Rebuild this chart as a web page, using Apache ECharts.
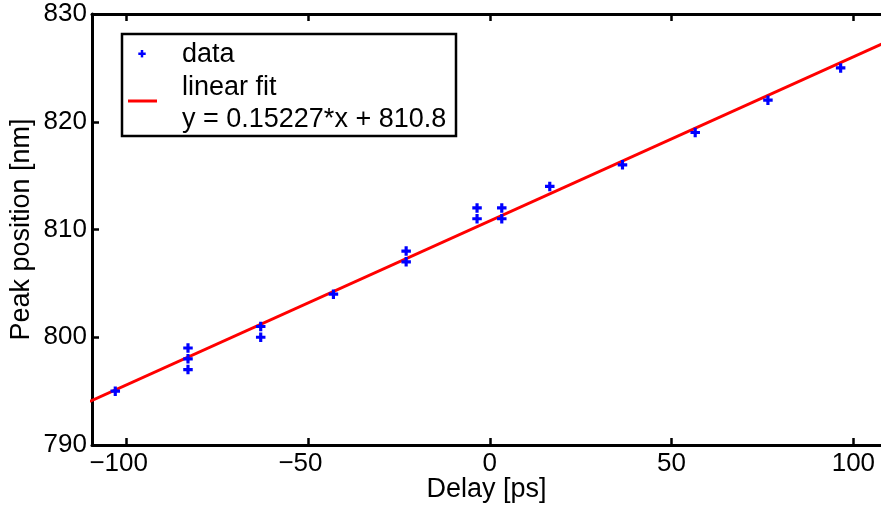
<!DOCTYPE html>
<html>
<head>
<meta charset="utf-8">
<script src="https://cdn.jsdelivr.net/npm/echarts@6/dist/echarts.min.js"></script>
<style>html,body{margin:0;padding:0;background:#fff}#c{width:881px;height:509px}</style>
</head>
<body>
<div id="c"></div>
<script>
// Data
const delay = [-103, -83, -83, -83, -63, -63, -43, -23, -23, -3.5, -3.5, 3.3, 3.3, 16.5, 36.5, 56.5, 76.5, 96.5];
const peak  = [795, 799, 798, 797, 801, 800, 804, 808, 807, 812, 811, 812, 811, 814, 816, 819, 822, 825];
const fitX = [-110, 110];
const fitY = [794.05, 827.55];
const xTicks = [-100, -50, 0, 50, 100];
const yTicks = [790, 800, 810, 820, 830];
const legendLabels = ['data', 'linear fit', 'y = 0.15227*x + 810.8'];

const FONT = 'Liberation Sans, Arial, sans-serif';
const chart = echarts.init(document.getElementById('c'), null, {renderer: 'canvas'});
const plus = 'path://M3,0h3v3h3v3h-3v3h-3v-3h-3v-3h3z';
const fmt = v => (v < 0 ? '{neg|\u2212' + Math.abs(v) + '}' : String(v));

const axisLine = {show: true, onZero: false, lineStyle: {color: '#000', width: 3}};
const axisTick = (vals) => ({show: true, inside: true, length: 7, customValues: vals, lineStyle: {color: '#000', width: 2.5}});

const option = {
  backgroundColor: '#fff',
  animation: false,
  grid: {left: 91, top: 14, right: 0, height: 431, containLabel: false},
  xAxis: [{
    type: 'value', min: -109.4, max: 107.6, position: 'bottom',
    name: 'Delay [ps]', nameLocation: 'middle', nameGap: 31.5, nameMoveOverlap: false,
    nameTextStyle: {fontFamily: FONT, fontSize: 27, color: '#000', verticalAlign: 'top', lineHeight: 27},
    axisLine: axisLine,
    axisTick: axisTick(xTicks),
    axisLabel: {show: true, customValues: xTicks, formatter: fmt, margin: 6, fontFamily: FONT, fontSize: 26, color: '#000',
      rich: {neg: {fontFamily: FONT, fontSize: 26, color: '#000', padding: [0, 15, 0, 0]}}},
    splitLine: {show: false}
  }, {
    type: 'value', min: -109.4, max: 107.6, position: 'top',
    axisLine: axisLine,
    axisTick: axisTick(xTicks),
    axisLabel: {show: false},
    splitLine: {show: false}
  }],
  yAxis: [{
    type: 'value', min: 790, max: 830, interval: 10, position: 'left',
    name: 'Peak position [nm]', nameLocation: 'middle', nameGap: 57, nameMoveOverlap: false,
    nameTextStyle: {fontFamily: FONT, fontSize: 27, color: '#000', lineHeight: 27},
    axisLine: axisLine,
    axisTick: axisTick(yTicks),
    axisLabel: {show: true, customValues: yTicks, margin: 5, fontFamily: FONT, fontSize: 26, color: '#000'},
    splitLine: {show: false}
  }],
  series: [{
    name: 'linear fit', type: 'line', xAxisIndex: 0, yAxisIndex: 0,
    data: fitX.map((x, i) => [x, fitY[i]]),
    showSymbol: false, symbol: 'none', clip: true,
    lineStyle: {color: '#ff0000', width: 3}, z: 2
  }, {
    name: 'data', type: 'scatter', xAxisIndex: 0, yAxisIndex: 0,
    data: delay.map((x, i) => [x, peak[i]]),
    symbol: plus, symbolSize: 9.5,
    itemStyle: {color: '#0000ff', opacity: 1}, z: 3
  }],
  graphic: [
    {type: 'rect', z: 10, shape: {x: 122, y: 34, width: 334, height: 102},
     style: {fill: '#fff', stroke: '#000', lineWidth: 2.5}},
    {type: 'rect', z: 11, shape: {x: 138.3, y: 52.5, width: 7.4, height: 2.5}, style: {fill: '#0000ff'}},
    {type: 'rect', z: 11, shape: {x: 140.75, y: 50, width: 2.5, height: 7.4}, style: {fill: '#0000ff'}},
    {type: 'line', z: 11, shape: {x1: 128, y1: 101, x2: 157, y2: 101}, style: {stroke: '#ff0000', lineWidth: 3}},
    {type: 'text', z: 11, x: 182, y: 55, style: {text: legendLabels[0], font: '27px ' + FONT, fill: '#000', verticalAlign: 'middle'}},
    {type: 'text', z: 11, x: 182, y: 88, style: {text: legendLabels[1], font: '27px ' + FONT, fill: '#000', verticalAlign: 'middle'}},
    {type: 'text', z: 11, x: 182, y: 120, style: {text: legendLabels[2], font: '27px ' + FONT, fill: '#000', verticalAlign: 'middle'}}
  ]
};
chart.setOption(option);
</script>
</body>
</html>
